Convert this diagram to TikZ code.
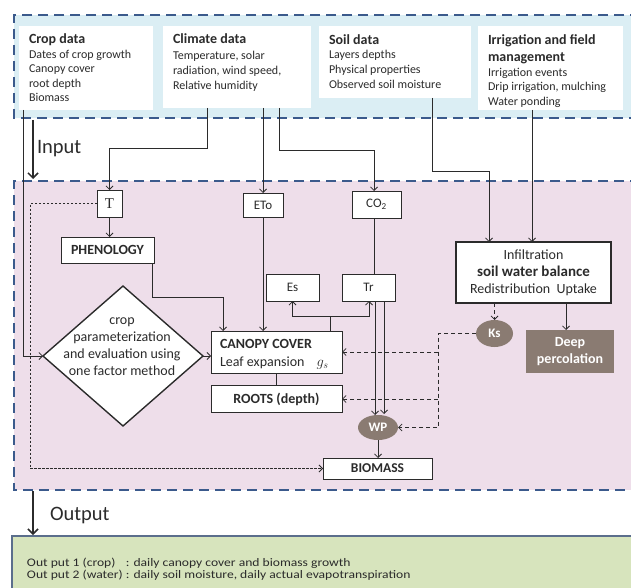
\documentclass[tikz,border=0pt]{standalone}
\usepackage{fontspec}
\usepackage{graphicx}
\setmainfont{Carlito}
\newfontfamily\serifT{Liberation Serif}
\usetikzlibrary{arrows.meta,shapes.geometric}
\definecolor{dashblue}{HTML}{3B5A8C}
\definecolor{inblue}{HTML}{DBEEF4}
\definecolor{procpink}{HTML}{EEDEEA}
\definecolor{outgreen}{HTML}{D7E4BD}
\definecolor{stone}{HTML}{8A7B72}
\definecolor{ink}{HTML}{2B2B2B}
\definecolor{gborder}{HTML}{5B6E8C}
\begin{document}
\begin{tikzpicture}[x=1pt,y=-1pt,
  every node/.style={inner sep=0pt, outer sep=0pt, text=ink},
  boxnode/.style={draw=ink, line width=0.9pt, fill=white},
  wbox/.style={fill=white},
  sz/.style 2 args={minimum width=#1, minimum height=#2},
  con/.style={draw=ink, line width=0.8pt},
  arr/.style={con, -{Straight Barb[length=3.5pt,width=7pt,line width=0.8pt]}},
  ksdash/.style={dash pattern=on 4pt off 3pt, line width=0.9pt},
  loopdash/.style={dash pattern=on 2.5pt off 1.5pt, line width=0.6pt},
  bigarr/.style={draw=ink, line width=1.5pt, -{Straight Barb[length=5pt,width=10pt,line width=1.5pt]}},
  region/.style={draw=dashblue, line width=2.2pt, dash pattern=on 10pt off 6pt},
  blob/.style={ellipse, fill=stone, text=white, font=\fontsize{13}{15}\selectfont\bfseries},
  head/.style={anchor=north west, align=left, font=\fontsize{14}{17}\selectfont\bfseries},
  body/.style={anchor=north west, align=left, font=\fontsize{12}{#1}\selectfont},
  reg/.style={font=\fontsize{13}{15}\selectfont},
  bold14/.style={font=\fontsize{14}{17}\selectfont\bfseries}
]
\useasboundingbox (0,0) rectangle (631,588);

% ---------- regions ----------
\fill[inblue] (14,15) rectangle (640,118);
\draw[region] (640,15) -- (14,15) -- (14,118) -- (640,118);
\fill[procpink] (14,181) rectangle (640,490);
\draw[region] (640,181) -- (14,181) -- (14,490) -- (640,490);
\fill[outgreen] (12,536) rectangle (640,600);
\draw[gborder, line width=1.2pt] (640,536) -- (12,536) -- (12,600);

% ---------- input boxes ----------
\node[wbox, sz={134}{84}] (crop) at (86,68) {};
\node[wbox, sz={148}{82}] (clim) at (237,67) {};
\node[wbox, sz={152}{72}] (soil) at (395,62) {};
\node[wbox, sz={145}{84}] (irr) at (550.5,68) {};

\node[head] (cropH) at (29,34) {Crop data};
\node[body=14.4] (cropB) at (29,50) {Dates of crop growth\\Canopy cover\\root depth\\Biomass};
\node[head] (climH) at (173,34) {Climate data};
\node[body=15] (climB) at (173,51) {Temperature, solar\\radiation, wind speed,\\Relative humidity};
\node[head] (soilH) at (329,35) {Soil data};
\node[body=15] (soilB) at (329,50) {Layers depths\\Physical properties\\Observed soil moisture};
\node[head] (irrH) at (488,35) {Irrigation and field\\management};
\node[body=14.5] (irrB) at (488,68) {Irrigation events\\Drip irrigation, mulching\\Water ponding};

% ---------- labels ----------
\node[anchor=base west, font=\fontsize{20.5}{24}\selectfont] (inputL) at (37,154) {Input};
\node[anchor=base west, font=\fontsize{20.5}{24}\selectfont] (outputL) at (50,520) {Output};
\coordinate (inA) at (33,120);
\coordinate (inB) at (33,179);
\coordinate (outA) at (33,491);
\coordinate (outB) at (33,535);
\draw[bigarr] (inA) -- (inB);
\draw[bigarr] (outA) -- (outB);

% ---------- process nodes ----------
\node[boxnode, sz={25}{27}, font=\serifT\fontsize{15}{17}\selectfont] (T) at (109.5,203.5) {T};
\node[boxnode, sz={40}{24}, reg] (eto) at (263,205) {ETo};
\node[boxnode, sz={49}{27}, reg] (co2) at (376.5,204.5) {CO\textsubscript{2}};
\node[boxnode, sz={93}{26}, bold14] (phen) at (107.5,250) {PHENOLOGY};
\node[boxnode, sz={53}{27}, reg] (es) at (292.5,287.5) {Es};
\node[boxnode, sz={53}{27}, reg] (tr) at (368.5,287.5) {Tr};
\node[boxnode, sz={131}{42}] (can) at (276.5,352) {};
\node[anchor=west, align=left, font=\fontsize{14}{18}\selectfont] (canT) at (220,354) {\textbf{CANOPY COVER}\\Leaf expansion\hspace{12pt}$g_s$};
\node[boxnode, sz={131}{27}, bold14] (roots) at (276.5,399) {ROOTS (depth)};
\node[boxnode, sz={109}{21}, font=\fontsize{13.5}{16}\selectfont\bfseries] (bio) at (377.5,468.5) {BIOMASS};
\node[boxnode, line width=1.1pt, sz={155}{61}, align=center, font=\fontsize{14}{17}\selectfont] (swb) at (533.5,272.5)
  {Infiltration\\{\fontsize{15}{17}\selectfont\bfseries soil water balance}\\Redistribution\ \ Uptake};
\node[fill=stone, sz={88}{43}, align=center, text=white, bold14] (deep) at (570,351.5) {Deep\\percolation};
\node[blob, minimum width=40pt, minimum height=25pt] (wp) at (378,427.5) {WP};
\node[blob, minimum width=37pt, minimum height=27pt] (ks) at (494.5,333.5) {Ks};
\node[draw=ink, line width=1.4pt, fill=white, diamond, minimum width=160pt, minimum height=140pt] (diam) at (123,356) {};
\node[align=center, font=\fontsize{14}{17}\selectfont] (diamT) at (122,346.5) {crop\\parameterization\\and evaluation using\\one factor method};

% ---------- connectors ----------
\coordinate (c23) at (23,0);
\draw[arr] (crop.south -| c23) |- (diam.west);

\coordinate (kT) at (207,148);
\draw[arr] (clim.south -| kT) -- (kT) -| (T.north);
\draw[arr] (clim.south -| eto.north) -- (eto.north);
\coordinate (co2top) at ([xshift=-2.5pt]co2.north);
\coordinate (kC) at (279,150);
\draw[arr] (clim.south -| kC) -- (kC) -| (co2top);

\coordinate (swbL) at ([xshift=-44.5pt]swb.north);
\coordinate (kS) at (432,171);
\draw[arr] (soil.south -| kS) -- (kS) -| (swbL);
\coordinate (swbR) at ([xshift=-1.5pt]swb.north);
\draw[arr] (irr.south -| swbR) -- (swbR);

\draw[arr] (T.south) -- (T.south |- phen.north);
\coordinate (kP) at (152,297);
\draw[arr] (phen.south -| kP) -- (kP) -| ([xshift=-53.5pt]can.north);
\draw[arr] (eto.south) -- (eto.south |- can.north);
\draw[con] ([xshift=-2.5pt]co2.south) -- ([xshift=-2.5pt]co2.south |- tr.north);

\coordinate (kE) at (330,316);
\draw[con] (can.north -| kE) -- (kE);
\draw[arr] (kE) -| (es.south);
\draw[arr] (kE) -| ([xshift=0.5pt]tr.south);

\coordinate (trA) at ([xshift=6.5pt]tr.south);
\coordinate (trB) at ([xshift=15.5pt]tr.south);
\draw[arr] (trA) -- (trA |- wp.north);
\draw[arr] (trB) -- ([yshift=1pt]trB |- wp.north);

\draw[con] (can.south) -- (roots.north);
\draw[arr] (diam.east) -- (can.west |- diam.east);
\draw[arr] (wp.south) -- (wp.south |- bio.north);

\draw[arr, ksdash] (swb.south -| ks.north) -- (ks.north);
\coordinate (deepTop) at ([xshift=-4pt]deep.north);
\draw[arr] (swb.south -| deepTop) -- (deepTop);

\coordinate (kK) at (438,0);
\draw[arr, ksdash] (ks.west) -| (kK |- wp.east) -- (wp.east);
\draw[arr, ksdash] (kK |- can.east) -- (can.east);
\draw[arr, ksdash] (kK |- roots.east) -- (roots.east);

\coordinate (kL) at (30,0);
\draw[arr, loopdash] (T.west) -| (kL |- bio.west) -- (bio.west);

% ---------- output text ----------
\node[anchor=west] (outtxt) at (27,570) {\scalebox{1}[0.85]{\fontsize{13.6}{14.5}\selectfont\begin{tabular}{@{}l@{\hspace{3pt}}l@{}}Out put 1 (crop) & : daily canopy cover and biomass growth\\Out put 2 (water) & : daily soil moisture, daily actual evapotranspiration\end{tabular}}};
\end{tikzpicture}
\end{document}
